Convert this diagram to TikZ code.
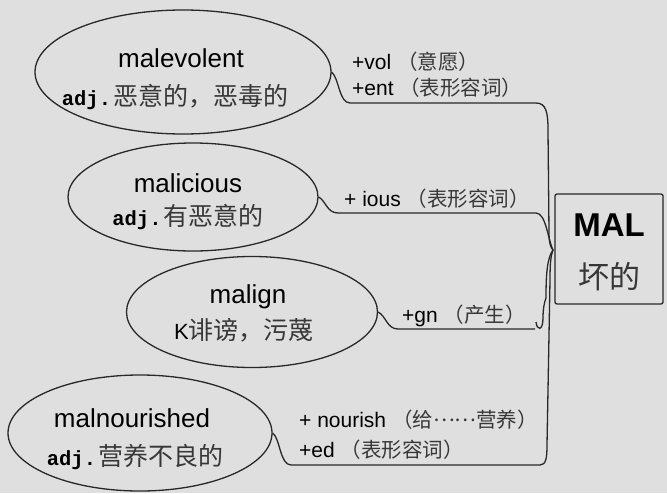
\documentclass[tikz,border=0pt]{standalone}
\usepackage{fontspec}
\setmainfont{Liberation Sans}
\newfontfamily\cjk{Noto Sans CJK SC}
\newfontfamily\monof{Liberation Mono}
\usetikzlibrary{shapes.geometric}
\definecolor{bgc}{RGB}{223,223,223}
\definecolor{ln}{RGB}{40,40,40}
\definecolor{cjkc}{RGB}{55,55,55}
\newcommand\zhx[1]{{\cjk\color{cjkc}#1}}
\newcommand\adjx{{\monof\bfseries adj.}}
\newcommand\lblcjk{\fontsize{20.5}{24}\selectfont}
\tikzset{
  oval/.style={draw=ln, line width=1.3pt, ellipse, inner sep=0pt},
  word/.style={font=\fontsize{26}{28}\selectfont, inner sep=0pt, text=black},
  meaning/.style={inner sep=0pt, font=\fontsize{24}{28}\selectfont},
  lbl/.style={anchor=west, inner sep=0pt, font=\fontsize{21}{24}\selectfont},
  conn/.style={draw=ln, line width=1.3pt},
}
\begin{document}
\begin{tikzpicture}[x=1pt,y=-1pt]
\fill[bgc] (0,0) rectangle (667,493);
\useasboundingbox (0,0) rectangle (667,493);

% ellipses
\node[oval, minimum width=296pt, minimum height=124pt] (e1) at (183,72) {};
\node[oval, minimum width=250pt, minimum height=108pt] (e2) at (193,197) {};
\node[oval, minimum width=251pt, minimum height=111pt] (e3) at (252,312) {};
\node[oval, minimum width=264pt, minimum height=116pt] (e4) at (140,433) {};

% ellipse texts
\node[word] (w1) at (181,58) {malevolent};
\node[meaning] (m1) at (175,97) {\fontsize{20.5}{24}\selectfont\adjx\kern2pt\fontsize{25}{28}\selectfont\zhx{恶意的，恶毒的}};
\node[word] (w2) at (188,183) {malicious};
\node[meaning] (m2) at (188,217) {\fontsize{20.5}{24}\selectfont\adjx\kern2pt\fontsize{25}{28}\selectfont\zhx{有恶意的}};
\node[word] (w3) at (248,297) {malign};
\node[meaning] (m3) at (244,330) {\fontsize{22}{24}\selectfont K\fontsize{25}{28}\selectfont\zhx{诽谤，污蔑}};
\node[word] (w4) at (132,418) {malnourished};
\node[meaning] (m4) at (135,457) {\fontsize{20.5}{24}\selectfont\adjx\kern2pt\fontsize{25}{28}\selectfont\zhx{营养不良的}};

% central box
\node[draw=ln, line width=1.3pt, rounded corners=2pt, minimum width=108pt, minimum height=110pt, inner sep=0pt] (box) at (609,249) {};
\node[inner sep=0pt, font=\fontsize{33}{36}\selectfont\bfseries] (mal) at (609,225) {MAL};
\node[inner sep=0pt, font=\fontsize{31}{34}\selectfont] (bad) at (609,277) {\zhx{坏的}};
\coordinate (j) at (553,250);

% labels
\node[lbl] (l1a) at (352,62) {+vol \lblcjk\zhx{（意愿）}};
\node[lbl] (l1b) at (352,88) {+ent \lblcjk\zhx{（表形容词）}};
\node[lbl] (l2) at (344,199) {+ ious \lblcjk\zhx{（表形容词）}};
\node[lbl] (l3) at (402,316) {+gn \lblcjk\zhx{（产生）}};
\node[lbl] (l4a) at (299,420) {+ nourish \lblcjk\zhx{（给\raisebox{0.32em}{……}营养）}};
\node[lbl] (l4b) at (299,450) {+ed \lblcjk\zhx{（表形容词）}};

% connectors
\draw[conn] (e1.east) .. controls (339,78) and (339,103) .. (350,103) -- (536,103)
  .. controls (546,103) and (548,112) .. (548,130) -- (549,232)
  .. controls (549,244) and (551,248) .. (j);
\draw[conn] (e2.east) .. controls (326,201) and (327,213) .. (338,213) -- (536,213)
  .. controls (546,213) and (548,240) .. (j);
\draw[conn] (e3.east) .. controls (386,316) and (387,329) .. (398,329) -- (535,329);
\draw[conn] (j) .. controls (547,258) and (546,275) .. (546,298)
  .. controls (544,303) and (543,310) .. (543,318)
  .. controls (543,331) and (537,331) .. (536,322);
\draw[conn] (e4.east) .. controls (280,438) and (280,465) .. (291,465) -- (540,465)
  .. controls (546,465) and (547,458) .. (547,445) -- (550,280)
  .. controls (550,262) and (551,255) .. (j);
\end{tikzpicture}
\end{document}
